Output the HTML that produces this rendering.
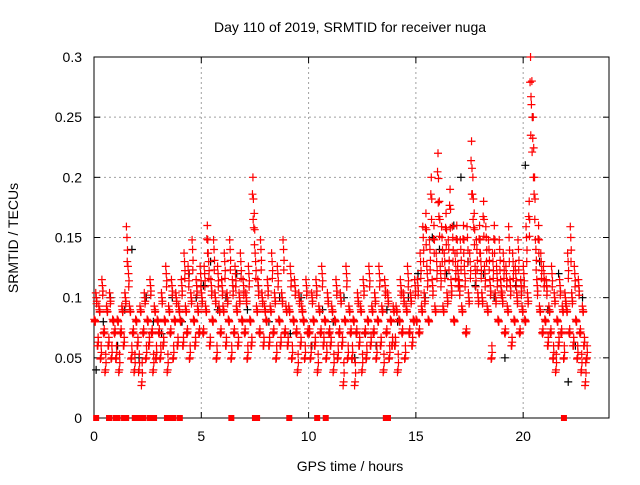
<!DOCTYPE html>
<html><head><meta charset="utf-8"><style>
body{margin:0;background:#fff}
svg{font-family:"Liberation Sans",sans-serif;font-size:14px}
</style></head><body>
<svg id="c" width="640" height="480">
<defs><clipPath id="pc"><rect x="90" y="53" width="523" height="370"/></clipPath></defs>
<text x="350" y="32" text-anchor="middle">Day 110 of 2019, SRMTID for receiver nuga</text>
<text x="350" y="471" text-anchor="middle">GPS time / hours</text>
<text transform="translate(18,238) rotate(-90)" text-anchor="middle">SRMTID / TECUs</text>
<g id="grid"></g><g id="axes"></g><g id="marks" clip-path="url(#pc)"></g>
</svg>
<script>
const xTicks=[0,5,10,15,20];
const yTicks=[0,0.05,0.1,0.15,0.2,0.25,0.3];
const yTickLabels=["0","0.05","0.1","0.15","0.2","0.25","0.3"];
const redByHour=[
[0.08,0.1,0.06,0.09,0.05,0.11,0.07,0.04,0.09,0.06,0.1,0.05,0.08,0.07],
[0.05,0.08,0.04,0.07,0.09,0.06,0.1,0.15,0.12,0.09,0.05,0.07,0.04,0.08],
[0.06,0.04,0.09,0.03,0.07,0.1,0.05,0.08,0.06,0.11,0.07,0.04,0.09,0.05,0.08],
[0.07,0.05,0.1,0.06,0.08,0.12,0.04,0.09,0.07,0.11,0.05,0.08,0.1,0.06,0.09],
[0.08,0.11,0.06,0.13,0.09,0.07,0.12,0.05,0.1,0.14,0.08,0.06,0.11,0.09,0.07,0.12],
[0.1,0.07,0.12,0.09,0.16,0.13,0.06,0.11,0.08,0.14,0.1,0.05,0.12,0.09,0.07,0.11],
[0.09,0.13,0.06,0.1,0.08,0.14,0.05,0.11,0.07,0.12,0.09,0.06,0.1,0.13,0.08,0.11],
[0.07,0.1,0.05,0.12,0.08,0.06,0.2,0.17,0.13,0.09,0.11,0.07,0.14,0.1,0.06,0.09],
[0.08,0.11,0.06,0.09,0.13,0.07,0.1,0.05,0.12,0.08,0.06,0.1,0.14,0.07,0.09],
[0.06,0.09,0.12,0.05,0.08,0.11,0.07,0.04,0.1,0.06,0.09,0.08,0.05,0.11,0.07],
[0.07,0.05,0.1,0.08,0.06,0.11,0.04,0.09,0.07,0.12,0.06,0.08,0.05,0.1,0.07],
[0.06,0.09,0.04,0.08,0.11,0.05,0.07,0.1,0.06,0.03,0.08,0.12,0.05,0.09,0.07],
[0.05,0.08,0.03,0.07,0.1,0.06,0.09,0.04,0.11,0.07,0.05,0.08,0.12,0.06,0.09],
[0.07,0.1,0.05,0.08,0.12,0.06,0.09,0.04,0.11,0.07,0.1,0.05,0.08,0.06,0.09],
[0.06,0.09,0.04,0.08,0.11,0.07,0.1,0.05,0.09,0.12,0.07,0.1,0.06,0.08,0.11],
[0.08,0.11,0.07,0.13,0.09,0.15,0.1,0.17,0.12,0.08,0.14,0.2,0.11,0.16,0.09,0.13],
[0.22,0.18,0.12,0.15,0.09,0.13,0.17,0.1,0.14,0.19,0.11,0.15,0.08,0.13,0.16,0.12],
[0.11,0.14,0.09,0.16,0.12,0.07,0.15,0.1,0.13,0.23,0.2,0.17,0.12,0.14,0.1,0.16],
[0.13,0.1,0.18,0.12,0.15,0.09,0.14,0.11,0.05,0.13,0.16,0.1,0.12,0.08,0.14,0.11],
[0.1,0.13,0.07,0.12,0.09,0.15,0.11,0.06,0.13,0.08,0.12,0.1,0.14,0.07,0.11,0.09],
[0.12,0.08,0.15,0.1,0.18,0.3,0.28,0.25,0.2,0.14,0.11,0.16,0.09,0.13,0.07,0.12],
[0.08,0.11,0.06,0.09,0.07,0.12,0.05,0.1,0.04,0.08,0.06,0.11,0.07,0.09,0.05,0.1],
[0.09,0.13,0.07,0.15,0.1,0.06,0.12,0.08,0.05,0.11,0.07,0.04,0.09,0.06,0.03,0.05]
];
const blackByHour=[
[0.04,0.08,0.1],[0.06,0.09,0.14],[0.05,0.1,0.08],[0.07,0.1],[0.08,0.12,0.1],
[0.11,0.13,0.09],[0.1,0.12],[0.09,0.11],[0.08,0.1],[0.07,0.1],[0.06,0.09],
[0.08,0.1],[0.05,0.07],[0.06,0.09],[0.08,0.1],[0.12,0.1,0.15],[0.14,0.12,0.16],
[0.2,0.13,0.11],[0.12,0.1],[0.05,0.11],[0.21,0.25,0.13],[0.09,0.12],[0.03,0.06,0.1]
];
const zeroTimes=[0.1,0.7,1.0,1.1,1.4,1.5,1.9,2.0,2.1,2.2,2.3,2.6,2.8,3.4,3.6,3.7,4.0,6.4,7.5,7.6,9.1,10.4,10.8,13.6,13.7,21.9];
const L=94,R=609,T=57,B=418,XMAX=24,YMAX=0.3;
const sx=v=>L+(v/XMAX)*(R-L), sy=v=>B-(v/YMAX)*(B-T);
const NS="http://www.w3.org/2000/svg";
function mk(tag,attrs,parent){const e=document.createElementNS(NS,tag);for(const k in attrs)e.setAttribute(k,attrs[k]);document.getElementById(parent).appendChild(e);return e;}
xTicks.forEach(t=>{
  const g=mk('line',{x1:sx(t),x2:sx(t),y1:T,y2:B,stroke:'#a0a0a0','stroke-dasharray':'2,3'},'grid');
  
  
  const a=mk('line',{x1:sx(t),x2:sx(t),y1:B,y2:B-6,stroke:'#000'},'axes');
  
  
  const b=mk('line',{x1:sx(t),x2:sx(t),y1:T,y2:T+6,stroke:'#000'},'axes');
  
  
  const tx=mk('text',{x:sx(t),y:B+23,'text-anchor':'middle'},'axes');tx.textContent=t;
  
  
});
yTicks.forEach((t,i)=>{
  const g=mk('line',{x1:L,x2:R,y1:sy(t),y2:sy(t),stroke:'#a0a0a0','stroke-dasharray':'2,3'},'grid');
  
  
  const a=mk('line',{x1:L,x2:L+6,y1:sy(t),y2:sy(t),stroke:'#000'},'axes');
  
  
  const b=mk('line',{x1:R,x2:R-6,y1:sy(t),y2:sy(t),stroke:'#000'},'axes');
  
  
  const tx=mk('text',{x:L-12,y:sy(t)+5,'text-anchor':'end'},'axes');tx.textContent=yTickLabels[i];
  
  
});
const fr=mk('rect',{x:L,y:T,width:R-L,height:B-T,fill:'none',stroke:'#000','stroke-width':1},'axes');


function plus(x,y,col,name){
  const p=mk('path',{d:`M${x-4} ${y}h8M${x} ${y-4}v8`,stroke:col,'stroke-width':1.2,fill:'none'},'marks');
  
  
}
blackByHour.forEach((arr,h)=>arr.forEach((v,i)=>plus(sx(h+(i+0.3)/arr.length),sy(v),'#000','black-point')));
redByHour.forEach((arr,h)=>arr.forEach((v,i)=>{
  const n=arr.length;
  plus(sx(h+(i+0.5)/n),sy(v),'#f00','red-point');
  plus(sx(h+(i+0.85)/n),sy(v*0.85+0.012),'#f00','red-point');
  plus(sx(h+(i+0.15)/n),sy(v<=0.15?v*1.1-0.006:v*0.93),'#f00','red-point');
  plus(sx(h+(i+0.68)/n),sy(v*0.7+0.025),'#f00','red-point');
}));
zeroTimes.forEach(t=>{
  const r=mk('rect',{x:sx(t)-3,y:B-3,width:6,height:6,fill:'#f00'},'marks');
  
  
});
</script>
</body></html>
